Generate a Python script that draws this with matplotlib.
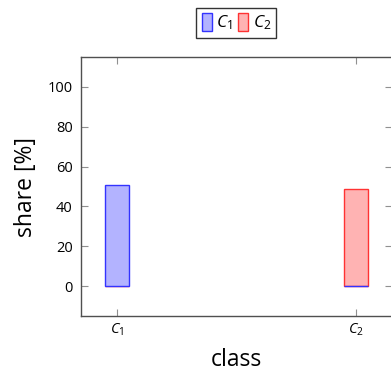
import matplotlib
matplotlib.use("Agg")
import matplotlib.pyplot as plt

# class shares in percent
classes = ["$C_1$", "$C_2$"]
share_c1 = [51, 0]
share_c2 = [0, 49]

plt.rcParams["font.family"] = ["Open Sans", "DejaVu Sans"]
plt.rcParams["mathtext.fontset"] = "custom"
plt.rcParams["mathtext.rm"] = "Open Sans"
plt.rcParams["mathtext.it"] = "Open Sans:italic"

fig = plt.figure(figsize=(3.91, 3.72), dpi=100)
ax = fig.add_axes([0.2072, 0.1505, 0.7946, 0.6962])

x = [1, 2]
ax.bar(x, share_c2, width=0.1, color="#ffb3b3", edgecolor="#ff3333", lw=1.0, label="$C_2$", zorder=2)
ax.bar(x, share_c1, width=0.1, color="#b3b3ff", edgecolor="#3333ff", lw=1.0, label="$C_1$", zorder=3)

ax.set_xlim(0.85, 2.15)
ax.set_ylim(-15, 115)
ax.set_xticks(x)
ax.set_xticklabels(classes, fontsize=13.5)
ax.set_yticks([0, 20, 40, 60, 80, 100])

for s in ax.spines.values():
    s.set_color("#505050")
    s.set_linewidth(1.0)
ax.tick_params(direction="in", length=5, width=0.8, color="#909090",
               top=True, right=True, labelsize=10.5, pad=6)
ax.tick_params(axis="x", pad=4)

ax.set_ylabel("share [%]", fontsize=16.5, labelpad=7)
ax.set_xlabel("class", fontsize=16.5, labelpad=7.5)

h, l = ax.get_legend_handles_labels()
ax.legend(h[::-1], l[::-1], loc="lower center", bbox_to_anchor=(0.5, 1.075), ncol=2,
          fontsize=12.5, frameon=True, fancybox=False, edgecolor="black",
          handlelength=0.6, handleheight=1.2, handletextpad=0.25, columnspacing=0.3,
          borderpad=0.3, borderaxespad=0)

fig.savefig("out.png", dpi=100)
